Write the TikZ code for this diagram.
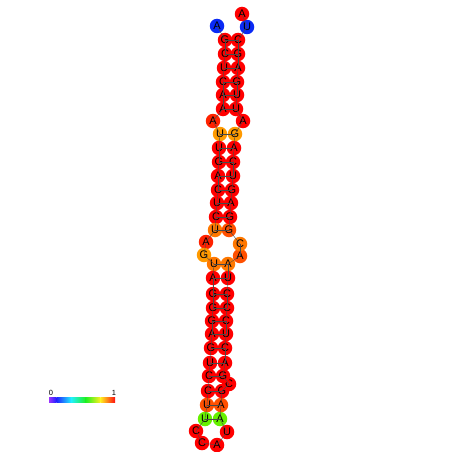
\documentclass[tikz,border=0pt]{standalone}
\usepackage{fontspec}
\setmainfont{Liberation Sans}
\usepackage{tikz}
\usetikzlibrary{calc}
\definecolor{ntred}{HTML}{FF0000}
\definecolor{ntredor}{HTML}{FF2200}
\definecolor{ntorred}{HTML}{FF5000}
\definecolor{ntorange}{HTML}{FF7800}
\definecolor{ntamber}{HTML}{FF9A00}
\definecolor{ntgreen}{HTML}{66F000}
\definecolor{ntblue}{HTML}{0A2AF5}
\definecolor{bond}{HTML}{4A4A4A}
\definecolor{cbpurple}{HTML}{9A33FF}
\definecolor{cbblue}{HTML}{2020FF}
\definecolor{cbcyan}{HTML}{20F0FF}
\definecolor{cbgreen}{HTML}{20F020}
\definecolor{cbyellow}{HTML}{FFF020}
\definecolor{cbred}{HTML}{FF1010}
\tikzset{
  nt/.style={circle,inner sep=0pt,minimum size=14.5pt,font=\fontsize{11}{11}\selectfont,text=black},
  link/.style={draw=bond,line width=0.4pt},
  barlabel/.style={font=\fontsize{7.5}{7.5}\selectfont,inner sep=0pt},
}

\begin{document}
\begin{tikzpicture}[x=1pt,y=-1pt]
\useasboundingbox (0,0) rectangle (452,452);

% nucleotides, 5' to 3'
\foreach \i/\l/\x/\y/\c in {
  1/A/217/26/ntblue, 2/G/225/40/ntred, 3/C/225/54/ntred, 4/U/224/68/ntred,
  5/C/223/82/ntred, 6/A/223/95/ntred, 7/A/223/109/ntred, 8/A/213/121/ntredor,
  9/U/220/134/ntamber, 10/U/219/148/ntred, 11/G/219/162/ntred, 12/A/218/176/ntred,
  13/C/218/190/ntred, 14/U/217/203/ntred, 15/C/216/217/ntred, 16/U/215/230/ntorange,
  17/A/206/242/ntredor, 18/G/204/255/ntamber, 19/U/214/264/ntorange, 20/A/213/278/ntred,
  21/G/213/294/ntred, 22/G/213/308/ntred, 23/G/212/321/ntred, 24/A/212/334/ntred,
  25/G/211/348/ntred, 26/U/210/363/ntred, 27/C/209/376/ntred, 28/C/208/391/ntred,
  29/U/207/405/ntorred, 30/U/205/419/ntgreen, 31/C/196/431/ntred, 32/C/202/443/ntred,
  33/A/217/445/ntred, 34/U/227/432/ntred, 35/A/220/419/ntgreen, 36/A/221/405/ntorred,
  37/G/222/391/ntred, 38/C/229/384/ntred, 39/G/223/376/ntred, 40/A/225/363/ntred,
  41/C/225/348/ntred, 42/U/226/334/ntred, 43/C/226/321/ntred, 44/C/227/308/ntred,
  45/C/227/294/ntred, 46/U/228/278/ntred, 47/A/228/264/ntorange, 48/A/240/256/ntorred,
  49/C/240/244/ntorange, 50/G/229/230/ntorred, 51/G/230/217/ntred, 52/A/231/203/ntred,
  53/G/232/190/ntred, 54/U/233/176/ntred, 55/C/233/162/ntred, 56/A/234/148/ntred,
  57/G/235/134/ntamber, 58/A/243/121/ntred, 59/U/236/109/ntred, 60/U/237/95/ntred,
  61/G/237/82/ntred, 62/A/238/68/ntred, 63/G/238/54/ntred, 64/C/238/40/ntred,
  65/U/247/27/ntblue, 66/A/242/14/ntred}
  {\node[nt,fill=\c] (n\i) at (\x,\y) {\l};}

% backbone
\foreach \i in {1,...,65}{\pgfmathtruncatemacro{\j}{\i+1}\draw[link] (n\i.center) -- (n\j.center);}

% base pairs
\foreach \a/\b in {2/64,3/63,4/62,5/61,6/60,7/59,9/57,10/56,11/55,12/54,13/53,14/52,15/51,16/50,
  19/47,20/46,21/45,22/44,23/43,24/42,25/41,26/40,27/39,28/37,29/36,30/35}
  {\draw[link] (n\a.center) -- (n\b.center);}

% colour bar
\shade[left color=cbpurple,right color=cbblue] (49,397) rectangle (56.4,402.5);
\shade[left color=cbblue,right color=cbcyan] (56.3,397) rectangle (71.1,402.5);
\shade[left color=cbcyan,right color=cbgreen] (71,397) rectangle (85.8,402.5);
\shade[left color=cbgreen,right color=cbyellow] (85.7,397) rectangle (100.4,402.5);
\shade[left color=cbyellow,right color=cbred] (100.3,397) rectangle (115,402.5);
\node[barlabel] (lo) at (51,392.5) {0};
\node[barlabel] (hi) at (114,392.5) {1};

\end{tikzpicture}
\end{document}
